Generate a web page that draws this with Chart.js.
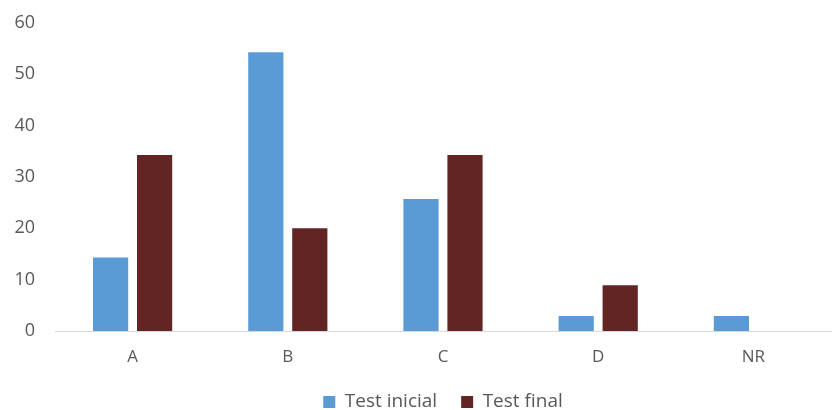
<!DOCTYPE html>
<html>
<head>
<meta charset="utf-8">
<script src="https://cdn.jsdelivr.net/npm/chart.js@4"></script>
<style>
  html, body { margin: 0; padding: 0; background: #fff; }
  #wrap { width: 832px; height: 410px; }
</style>
</head>
<body>
<div id="wrap"><canvas id="c" width="832" height="410"></canvas></div>
<script>
const categories = ['A', 'B', 'C', 'D', 'NR'];
const testInicial = [14.3, 54.3, 25.7, 2.9, 2.9];
const testFinal = [34.3, 20, 34.3, 8.9, 0];
const yTicks = [0, 10, 20, 30, 40, 50, 60];

const FONT = "'Open Sans', 'Liberation Sans', sans-serif";
const GREY = '#595959';

new Chart(document.getElementById('c'), {
  type: 'bar',
  data: {
    labels: categories,
    datasets: [
      { label: 'Test inicial', data: testInicial, backgroundColor: '#5B9BD5' },
      { label: 'Test final', data: testFinal, backgroundColor: '#632523' }
    ]
  },
  options: {
    responsive: false,
    animation: false,
    devicePixelRatio: 1,
    layout: { padding: { top: 23, right: 1, left: 0, bottom: -11.5 } },
    datasets: { bar: { categoryPercentage: 0.567, barPercentage: 0.8 } },
    scales: {
      x: {
        grid: { display: false, drawTicks: false },
        border: { color: '#d9d9d9', width: 1 },
        ticks: { color: GREY, font: { family: FONT, size: 17 }, padding: 16 },
        afterFit: (axis) => { axis.height = 37.5; }
      },
      y: {
        min: 0, max: 60,
        afterBuildTicks: (axis) => { axis.ticks = yTicks.map(v => ({ value: v })); },
        grid: { display: false, drawTicks: false },
        border: { display: false },
        ticks: { color: GREY, font: { family: FONT, size: 18 }, padding: 20 },
        afterFit: (axis) => {
          axis.width = 55;
          // the top label fits inside the layout padding
          axis.paddingTop = 0;
        }
      }
    },
    plugins: {
      legend: {
        position: 'bottom',
        fullSize: false,
        labels: {
          color: GREY, font: { family: FONT, size: 19 },
          boxWidth: 12, boxHeight: 12, padding: 24
        }
      },
      tooltip: { enabled: false }
    }
  }
});
</script>
</body>
</html>
